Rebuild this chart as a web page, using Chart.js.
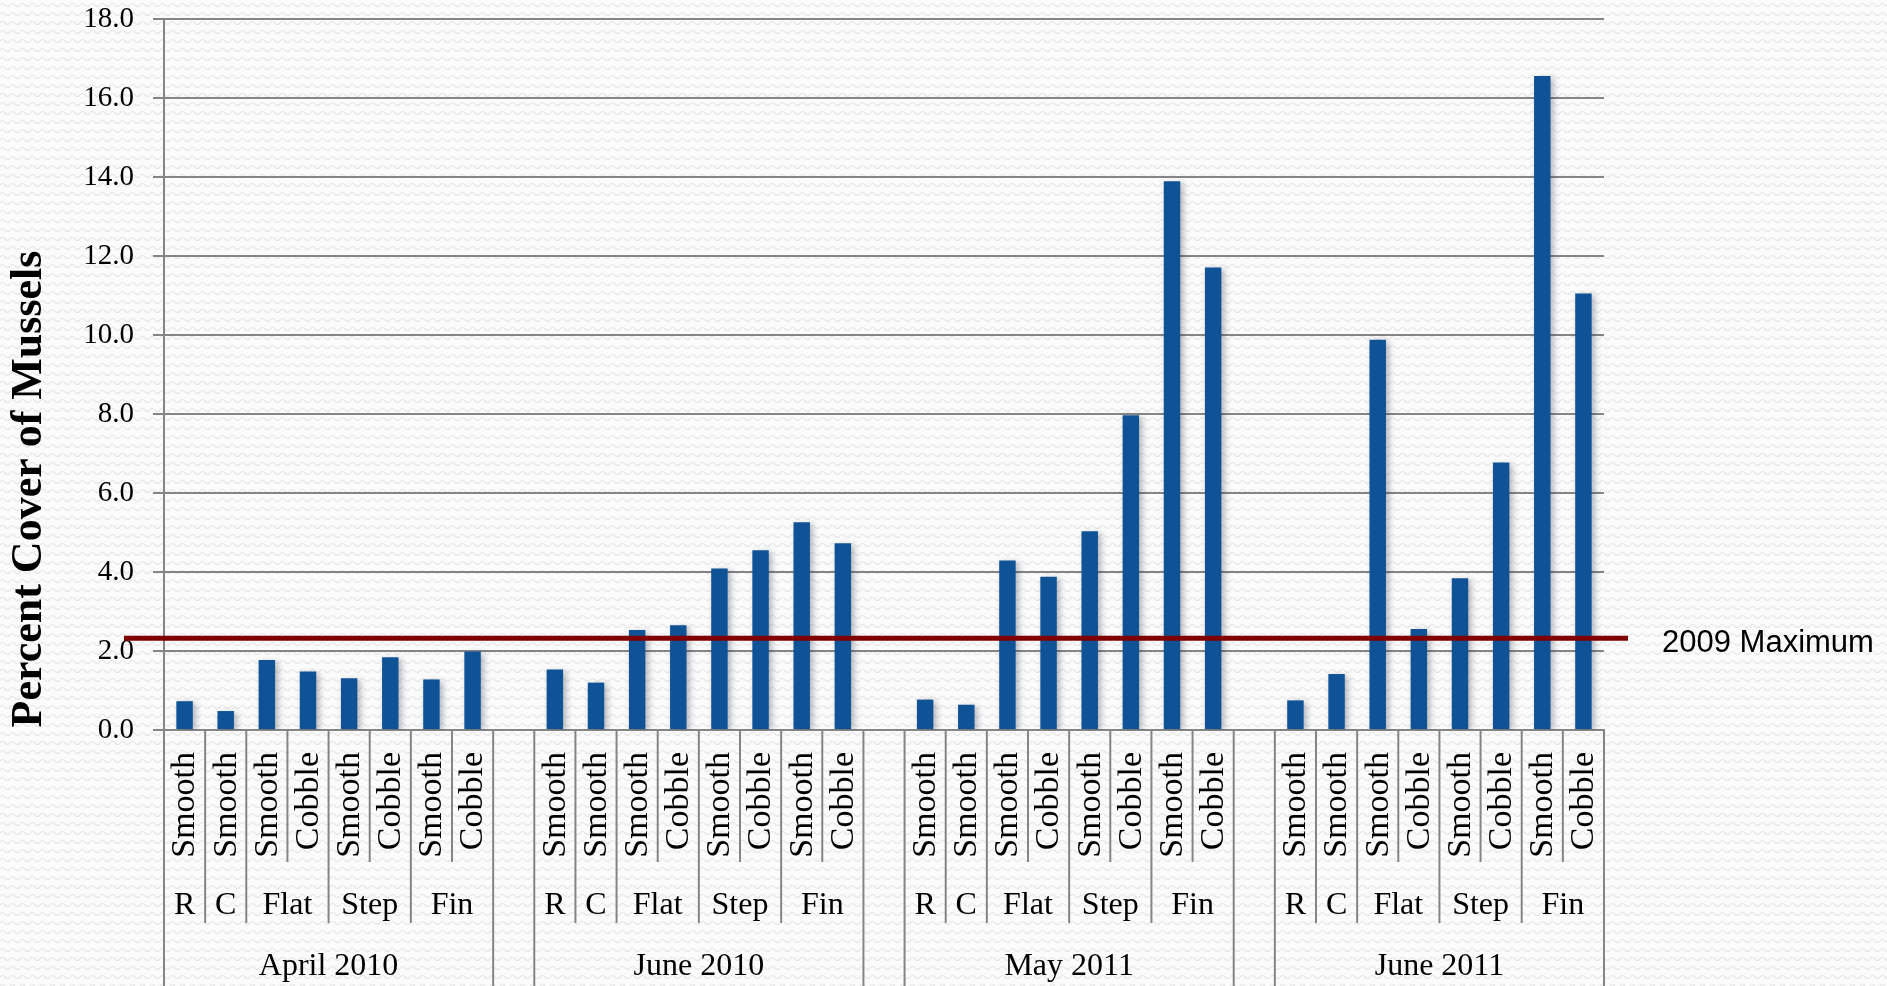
<!DOCTYPE html>
<html>
<head>
<meta charset="utf-8">
<title>Percent Cover of Mussels</title>
<script src="https://cdn.jsdelivr.net/npm/chart.js@4/dist/chart.umd.min.js"></script>
<style>
  html, body {
    margin: 0;
    padding: 0;
    overflow: hidden;
    width: 1887px;
    height: 986px;
    background-color: #fbfbfb;
    background-image: url("data:image/svg+xml;utf8,<svg xmlns='http://www.w3.org/2000/svg' width='10' height='9'><path d='M0 5 Q2.5 2 5 5 T10 5' fill='none' stroke='%23e6e6e6' stroke-width='1.2'/></svg>");
  }
  canvas { display: block; }
</style>
</head>
<body>
<canvas id="chart" width="1887" height="986"></canvas>
<script>
// Survey dates (top-level groups along the x axis)
const surveys = ['April 2010', 'June 2010', 'May 2011', 'June 2011'];
// Structure types and how many surface columns each one spans
const structures = ['R', 'C', 'Flat', 'Step', 'Fin'];
const structureSpans = [1, 1, 2, 2, 2];
// Surface texture of each column within a survey
const surfaces = ['Smooth', 'Smooth', 'Smooth', 'Cobble', 'Smooth', 'Cobble', 'Smooth', 'Cobble'];

// Percent cover of mussels per column, one array per survey
const april2010 = [0.73, 0.48, 1.77, 1.48, 1.31, 1.84, 1.28, 1.99];
const june2010  = [1.53, 1.20, 2.53, 2.65, 4.09, 4.55, 5.26, 4.73];
const may2011   = [0.77, 0.64, 4.29, 3.88, 5.03, 7.97, 13.89, 11.71];
const june2011  = [0.75, 1.42, 9.88, 2.56, 3.84, 6.77, 16.56, 11.05];

// Reference level: highest cover recorded in 2009
const max2009 = 2.32;
const max2009Label = '2009 Maximum';

// Y axis tick range
const yMin = 0, yMax = 18, yStep = 2;

const seriesBySurvey = [april2010, june2010, may2011, june2011];

// Flatten into one category axis, with an empty spacer column between surveys
const labels = [];
const values = [];
seriesBySurvey.forEach((series, g) => {
  if (g > 0) { labels.push(''); values.push(null); }
  let s = 0, k = 0;
  series.forEach((v, i) => {
    labels.push(surveys[g] + ' ' + structures[s] + ' ' + surfaces[i]);
    values.push(v);
    k++;
    if (k === structureSpans[s]) { s++; k = 0; }
  });
});

const SERIF = '"Liberation Serif", "Times New Roman", serif';
const SANS = '"Liberation Sans", Arial, sans-serif';
const GRAY = '#858585';

// Soft drop shadow behind the bars
const barShadow = {
  id: 'barShadow',
  beforeDatasetsDraw(chart) {
    const ctx = chart.ctx;
    ctx.save();
    ctx.shadowColor = 'rgba(40, 50, 70, 0.35)';
    ctx.shadowBlur = 6;
    ctx.shadowOffsetX = 3;
    ctx.shadowOffsetY = 2;
  },
  afterDatasetsDraw(chart) {
    chart.ctx.restore();
  }
};

// 2009 maximum reference line with its label
const referenceLine = {
  id: 'referenceLine',
  afterDatasetsDraw(chart) {
    const {ctx, chartArea, scales: {y}} = chart;
    const py = y.getPixelForValue(max2009);
    ctx.save();
    ctx.strokeStyle = '#800000';
    ctx.lineWidth = 5;
    ctx.beginPath();
    ctx.moveTo(chartArea.left - 40, py);
    ctx.lineTo(chartArea.right + 24, py);
    ctx.stroke();
    ctx.fillStyle = '#000';
    ctx.font = '31px ' + SANS;
    ctx.textAlign = 'left';
    ctx.textBaseline = 'alphabetic';
    ctx.fillText(max2009Label, chartArea.right + 58, py + 14);
    ctx.restore();
  }
};

// Three-level category axis (surface / structure / survey) and y-axis title
const groupedAxis = {
  id: 'groupedAxis',
  afterDraw(chart) {
    const {ctx, chartArea, scales: {x}} = chart;
    const step = x.getPixelForValue(1) - x.getPixelForValue(0);
    const axisY = chartArea.bottom;
    const bottom = chart.height;
    const shortEnd = axisY + 132;
    const midEnd = axisY + 193;

    ctx.save();
    ctx.strokeStyle = GRAY;
    ctx.lineWidth = 2;
    ctx.fillStyle = '#000';

    const vline = (px, y2) => {
      ctx.beginPath();
      ctx.moveTo(px, axisY);
      ctx.lineTo(px, y2);
      ctx.stroke();
    };

    let idx = 0;
    seriesBySurvey.forEach((series, g) => {
      if (g > 0) idx++; // spacer column
      const first = idx;
      const left = x.getPixelForValue(first) - step / 2;
      vline(left, bottom);

      // surface labels, rotated
      series.forEach((v, i) => {
        const cx = x.getPixelForValue(first + i);
        ctx.save();
        ctx.translate(cx + 1, axisY + 22);
        ctx.rotate(-Math.PI / 2);
        ctx.font = '34px ' + SERIF;
        ctx.textAlign = 'right';
        ctx.textBaseline = 'middle';
        ctx.fillText(surfaces[i], 0, 0);
        ctx.restore();
      });

      // structure labels and separators
      let c = first;
      structures.forEach((name, s) => {
        const span = structureSpans[s];
        const sLeft = x.getPixelForValue(c) - step / 2;
        const sRight = sLeft + span * step;
        if (s > 0) vline(sLeft, midEnd);
        for (let j = 1; j < span; j++) vline(sLeft + j * step, shortEnd);
        ctx.font = '32px ' + SERIF;
        ctx.textAlign = 'center';
        ctx.textBaseline = 'alphabetic';
        ctx.fillText(name, (sLeft + sRight) / 2, axisY + 184);
        c += span;
      });

      const right = x.getPixelForValue(first + series.length - 1) + step / 2;
      vline(right, bottom);

      // survey label
      ctx.font = '32px ' + SERIF;
      ctx.textAlign = 'center';
      ctx.textBaseline = 'alphabetic';
      ctx.fillText(surveys[g], (left + right) / 2, axisY + 245);

      idx += series.length;
    });

    // y-axis title
    ctx.save();
    ctx.translate(30, 489);
    ctx.rotate(-Math.PI / 2);
    ctx.font = 'bold 44px ' + SERIF;
    ctx.textAlign = 'center';
    ctx.textBaseline = 'middle';
    ctx.fillText('Percent Cover of Mussels', 0, 0);
    ctx.restore();

    ctx.restore();
  }
};

new Chart(document.getElementById('chart'), {
  type: 'bar',
  data: {
    labels: labels,
    datasets: [{
      data: values,
      backgroundColor: '#0f5396',
      barPercentage: 0.4,
      categoryPercentage: 1.0
    }]
  },
  options: {
    responsive: false,
    animation: false,
    devicePixelRatio: 1,
    layout: { padding: { top: 19, right: 283, left: 0, bottom: 0 } },
    plugins: {
      legend: { display: false },
      tooltip: { enabled: false }
    },
    scales: {
      x: {
        grid: { display: false },
        ticks: { display: false },
        border: { display: true, color: GRAY, width: 2 },
        afterFit(scale) {
          scale.height = 256;
          scale.paddingLeft = 0;
          scale.paddingRight = 0;
        }
      },
      y: {
        min: yMin,
        max: yMax,
        ticks: {
          stepSize: yStep,
          padding: 19,
          color: '#000',
          font: { family: SERIF, size: 29 },
          callback: (v) => Number(v).toFixed(1)
        },
        grid: { color: GRAY, lineWidth: 2, tickLength: 11 },
        border: { color: GRAY, width: 2 },
        afterFit(scale) {
          scale.width = 164;
          scale.paddingTop = 0;
          scale.paddingBottom = 0;
        }
      }
    }
  },
  plugins: [barShadow, referenceLine, groupedAxis]
});
</script>
</body>
</html>
